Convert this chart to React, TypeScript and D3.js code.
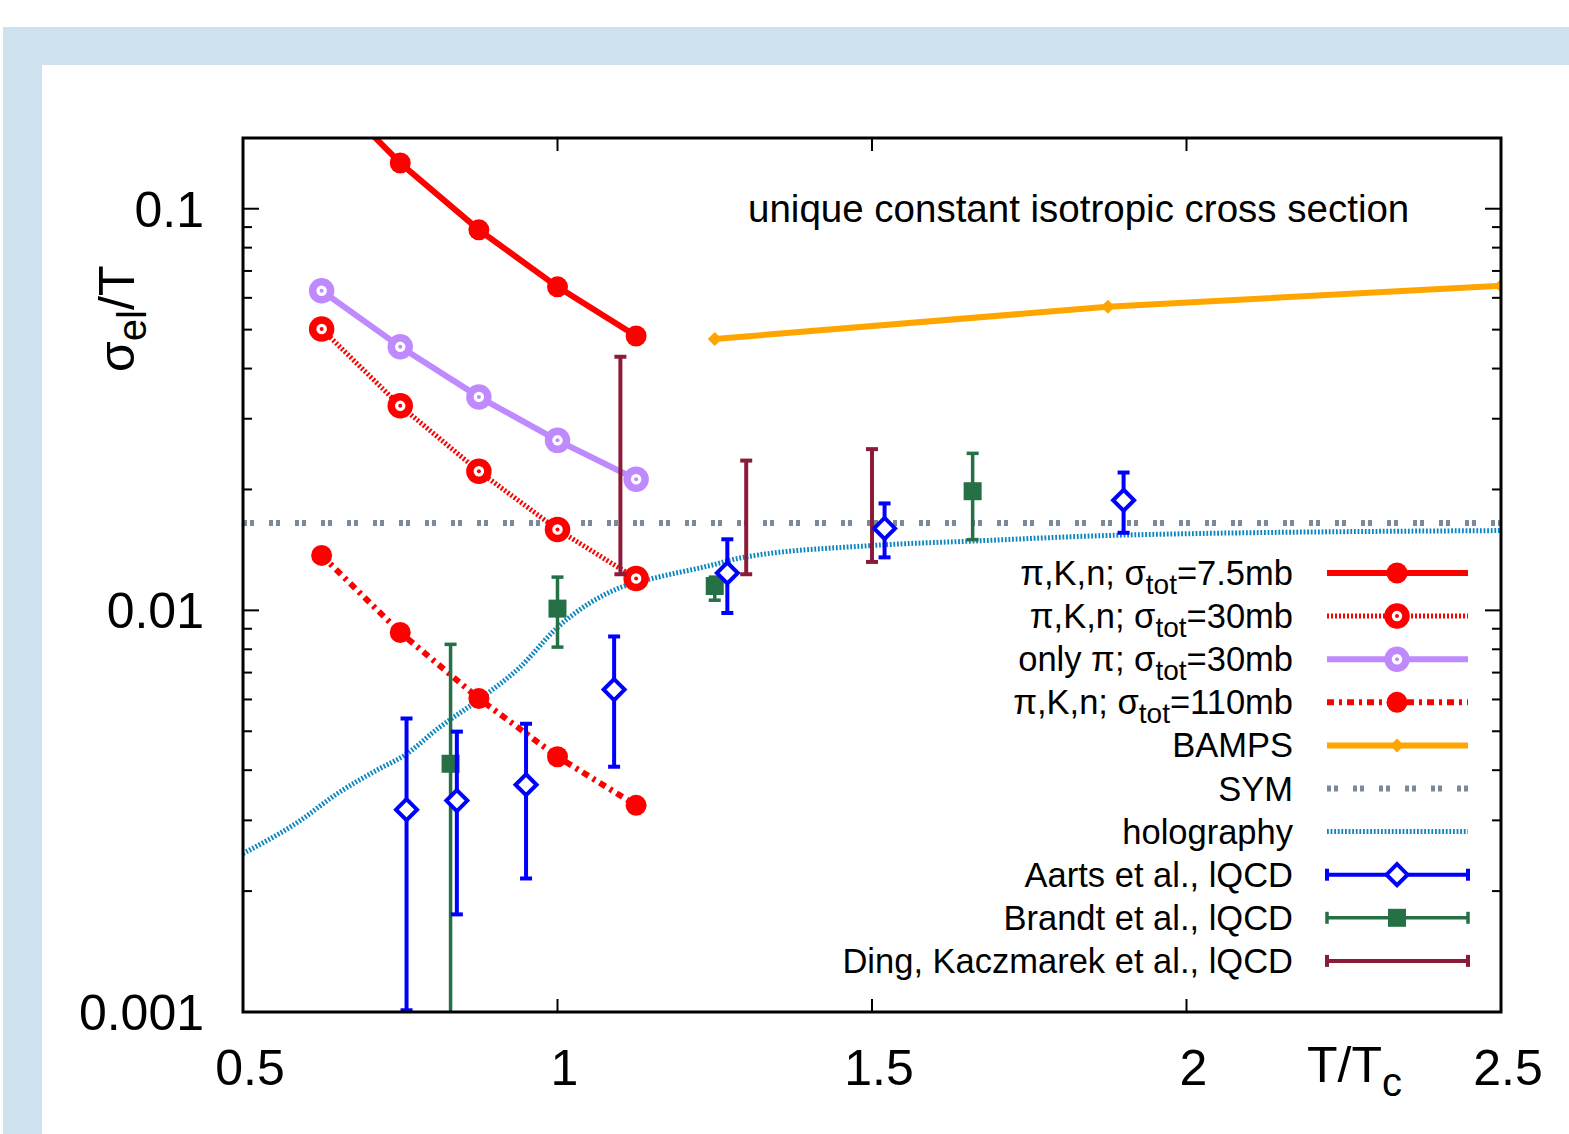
import * as d3 from 'd3'

// T/Tc grid of the transport-model points
const tGrid = [0.625, 0.75, 0.875, 1.0, 1.125]
const sig75 = [0.205, 0.13, 0.0886, 0.0639, 0.0482]
const sig30 = [0.0502, 0.0323, 0.0222, 0.0159, 0.012]
const sigPi30 = [0.0625, 0.0453, 0.034, 0.0265, 0.0212]
const sig110 = [0.0137, 0.00881, 0.00603, 0.00432, 0.00327]

const bampsT = [1.25, 1.875, 2.5]
const bampsV = [0.0474, 0.057, 0.0643]

const symV = 0.0165

const holoT = [0.5, 0.59, 0.65, 0.71, 0.76, 0.81, 0.88, 0.94, 1.0, 1.05, 1.1, 1.16, 1.24, 1.29, 1.5, 1.67, 1.9, 2.5]
const holoV = [0.00248, 0.00299, 0.0035, 0.00398, 0.00439, 0.00508, 0.00607, 0.00721, 0.00907, 0.0104, 0.0114, 0.0121, 0.0129, 0.0135, 0.0145, 0.0149, 0.0154, 0.0158]

const aartsT = [0.76, 0.84, 0.95, 1.09, 1.27, 1.52, 1.9]
const aartsV = [0.00319, 0.00336, 0.00368, 0.00635, 0.01239, 0.016, 0.0188]
const aartsLo = [0.00101, 0.00175, 0.00215, 0.00408, 0.00985, 0.01355, 0.0156]
const aartsHi = [0.00538, 0.00499, 0.00522, 0.00861, 0.01503, 0.01846, 0.02204]

const brandtT = [0.83, 1.0, 1.25, 1.66]
const brandtV = [0.00415, 0.0101, 0.0115, 0.0198]
const brandtLo = [0.0008, 0.0081, 0.0106, 0.015]
const brandtHi = [0.00823, 0.0121, 0.0121, 0.0246]

const dingT = [1.1, 1.3, 1.5]
const dingLo = [0.0123, 0.0123, 0.0132]
const dingHi = [0.0428, 0.0236, 0.0252]

const xTicks = [0.5, 1, 1.5, 2, 2.5]
const yLabels = ['0.001', '0.01', '0.1']

const W = 1569
const H = 1134
const plot = { left: 243, right: 1501, top: 138, bottom: 1012 }
const FONT = '"Liberation Sans", Arial, Helvetica, sans-serif'

const RED = '#ff0000'
const VIOLET = '#c08aff'
const ORANGE = '#ffa500'
const SYMC = '#7b8a9b'
const HOLO = '#0b86c0'
const BLUE = '#0000ff'
const GREEN = '#257044'
const DING = '#8a1c3a'

const DOT_RED = '2,2'
const DASHDOT = '7,5,3,5'
const SYM_DASH = '4,3,4,15'
const HOLO_DASH = '1.8,1.8'

const x = d3.scaleLinear().domain([0.5, 2.5]).range([plot.left, plot.right])
const y = d3.scaleLog().domain([0.001, 0.15]).range([plot.bottom, plot.top])

const pts = (ts: number[], vs: number[]) => ts.map((t, i) => [t, vs[i]] as [number, number])
const straight = d3
  .line<[number, number]>()
  .x((d) => x(d[0]))
  .y((d) => y(d[1]))
const smooth = d3
  .line<[number, number]>()
  .x((d) => x(d[0]))
  .y((d) => y(d[1]))
  .curve(d3.curveMonotoneX)

const diamond = (cx: number, cy: number, r: number) =>
  `M${cx},${cy - r}L${cx + r},${cy}L${cx},${cy + r}L${cx - r},${cy}Z`

function Ring({ cx, cy, color }: { cx: number; cy: number; color: string }) {
  return (
    <g>
      <circle cx={cx} cy={cy} r={9} fill="#fff" stroke={color} strokeWidth={7.5} />
      <circle cx={cx} cy={cy} r={2} fill={color} />
    </g>
  )
}

function ErrBar({ cx, y1, y2, color, w, cap = true }: { cx: number; y1: number; y2: number; color: string; w: number; cap?: boolean }) {
  return (
    <g stroke={color} strokeWidth={w}>
      <line x1={cx} x2={cx} y1={y1} y2={y2} />
      <line x1={cx - 6} x2={cx + 6} y1={y1} y2={y1} />
      {cap && <line x1={cx - 6} x2={cx + 6} y1={y2} y2={y2} />}
    </g>
  )
}

const legendRows = [
  { pre: 'π,K,n; σ', post: '=7.5mb', kind: 'red' },
  { pre: 'π,K,n; σ', post: '=30mb', kind: 'red30' },
  { pre: 'only π; σ', post: '=30mb', kind: 'violet' },
  { pre: 'π,K,n; σ', post: '=110mb', kind: 'red110' },
  { pre: 'BAMPS', post: '', kind: 'bamps' },
  { pre: 'SYM', post: '', kind: 'sym' },
  { pre: 'holography', post: '', kind: 'holo' },
  { pre: 'Aarts et al., lQCD', post: '', kind: 'aarts' },
  { pre: 'Brandt et al., lQCD', post: '', kind: 'brandt' },
  { pre: 'Ding, Kaczmarek et al., lQCD', post: '', kind: 'ding' },
]

function LegendSample({ kind, cy }: { kind: string; cy: number }) {
  const x1 = 1327
  const x2 = 1468
  const mx = 1397
  const ends = (c: string, w: number) => (
    <>
      <line x1={x1} x2={x2} y1={cy} y2={cy} stroke={c} strokeWidth={w} />
      <line x1={x1} x2={x1} y1={cy - 6} y2={cy + 6} stroke={c} strokeWidth={w} />
      <line x1={x2} x2={x2} y1={cy - 6} y2={cy + 6} stroke={c} strokeWidth={w} />
    </>
  )
  switch (kind) {
    case 'red':
      return (
        <g>
          <line x1={x1} x2={x2} y1={cy} y2={cy} stroke={RED} strokeWidth={6} />
          <circle cx={mx} cy={cy} r={10.5} fill={RED} />
        </g>
      )
    case 'red30':
      return (
        <g>
          <line x1={x1} x2={x2} y1={cy} y2={cy} stroke={RED} strokeWidth={5} strokeDasharray={DOT_RED} />
          <Ring cx={mx} cy={cy} color={RED} />
        </g>
      )
    case 'violet':
      return (
        <g>
          <line x1={x1} x2={x2} y1={cy} y2={cy} stroke={VIOLET} strokeWidth={6} />
          <Ring cx={mx} cy={cy} color={VIOLET} />
        </g>
      )
    case 'red110':
      return (
        <g>
          <line x1={x1} x2={x2} y1={cy} y2={cy} stroke={RED} strokeWidth={6} strokeDasharray={DASHDOT} />
          <circle cx={mx} cy={cy} r={10.5} fill={RED} />
        </g>
      )
    case 'bamps':
      return (
        <g>
          <line x1={x1} x2={x2} y1={cy} y2={cy} stroke={ORANGE} strokeWidth={6} />
          <path d={diamond(mx, cy, 7)} fill={ORANGE} />
        </g>
      )
    case 'sym':
      return <line x1={x1} x2={x2} y1={cy} y2={cy} stroke={SYMC} strokeWidth={6} strokeDasharray={SYM_DASH} />
    case 'holo':
      return <line x1={x1} x2={x2} y1={cy} y2={cy} stroke={HOLO} strokeWidth={5} strokeDasharray={HOLO_DASH} />
    case 'aarts':
      return (
        <g>
          {ends(BLUE, 4)}
          <path d={diamond(mx, cy, 10.5)} fill="#fff" stroke={BLUE} strokeWidth={4} />
        </g>
      )
    case 'brandt':
      return (
        <g>
          {ends(GREEN, 3.5)}
          <rect x={mx - 9} y={cy - 9} width={18} height={18} fill={GREEN} />
        </g>
      )
    default:
      return <g>{ends(DING, 4)}</g>
  }
}

export default function App() {
  const yTicks = y.ticks()
  const yMajor = [0.001, 0.01, 0.1]
  return (
    <div style={{ position: 'absolute', left: 0, top: 0 }}>
      <svg width={W} height={H} style={{ display: 'block' }} fontFamily={FONT}>
        <rect width={W} height={H} fill="#fff" />
        {/* light blue slide frame */}
        <rect x={3} y={27} width={W - 3} height={38} fill="#cde1ee" />
        <rect x={3} y={27} width={39} height={H - 27} fill="#cde1ee" />
        <rect x={42} y={65} width={W - 42} height={H - 65} fill="#fff" />

        <defs>
          <clipPath id="plotClip">
            <rect x={plot.left} y={plot.top} width={plot.right - plot.left} height={plot.bottom - plot.top} />
          </clipPath>
        </defs>

        {/* ticks */}
        <g stroke="#000" strokeWidth={2}>
          {xTicks.slice(1, -1).map((t) => (
            <g key={t}>
              <line x1={x(t)} x2={x(t)} y1={plot.bottom} y2={plot.bottom - 13} />
              <line x1={x(t)} x2={x(t)} y1={plot.top} y2={plot.top + 13} />
            </g>
          ))}
          {yTicks
            .filter((v) => v > 0.001 && v < 0.15)
            .map((v) => {
              const len = yMajor.some((m) => Math.abs(m - v) < 1e-9) ? 16 : 9
              return (
                <g key={v}>
                  <line x1={plot.left} x2={plot.left + len} y1={y(v)} y2={y(v)} />
                  <line x1={plot.right} x2={plot.right - len} y1={y(v)} y2={y(v)} />
                </g>
              )
            })}
        </g>

        <g clipPath="url(#plotClip)" fill="none">
          <line x1={plot.left} x2={plot.right} y1={y(symV)} y2={y(symV)} stroke={SYMC} strokeWidth={6} strokeDasharray={SYM_DASH} />
          <path d={smooth(pts(holoT, holoV)) ?? ''} stroke={HOLO} strokeWidth={5} strokeDasharray={HOLO_DASH} />

          <path d={straight(pts(tGrid, sig75)) ?? ''} stroke={RED} strokeWidth={6} />
          <path d={straight(pts(tGrid, sig30)) ?? ''} stroke={RED} strokeWidth={5} strokeDasharray={DOT_RED} />
          <path d={straight(pts(tGrid, sigPi30)) ?? ''} stroke={VIOLET} strokeWidth={6} />
          <path d={straight(pts(tGrid, sig110)) ?? ''} stroke={RED} strokeWidth={6} strokeDasharray={DASHDOT} />
          <path d={straight(pts(bampsT, bampsV)) ?? ''} stroke={ORANGE} strokeWidth={6} />

          {tGrid.map((t, i) => (
            <circle key={'a' + i} cx={x(t)} cy={y(sig75[i])} r={10.5} fill={RED} />
          ))}
          {tGrid.map((t, i) => (
            <Ring key={'b' + i} cx={x(t)} cy={y(sig30[i])} color={RED} />
          ))}
          {tGrid.map((t, i) => (
            <Ring key={'c' + i} cx={x(t)} cy={y(sigPi30[i])} color={VIOLET} />
          ))}
          {tGrid.map((t, i) => (
            <circle key={'d' + i} cx={x(t)} cy={y(sig110[i])} r={10.5} fill={RED} />
          ))}
          {bampsT.map((t, i) => (
            <path key={'e' + i} d={diamond(x(t), y(bampsV[i]), 7)} fill={ORANGE} />
          ))}

          {dingT.map((t, i) => (
            <ErrBar key={'f' + i} cx={x(t)} y1={y(dingHi[i])} y2={y(dingLo[i])} color={DING} w={4} />
          ))}
          {brandtT.map((t, i) => (
            <g key={'g' + i}>
              <ErrBar cx={x(t)} y1={y(brandtHi[i])} y2={y(brandtLo[i])} color={GREEN} w={3.5} cap={brandtLo[i] > 0.001} />
              <rect x={x(t) - 9} y={y(brandtV[i]) - 9} width={18} height={18} fill={GREEN} />
            </g>
          ))}
          {aartsT.map((t, i) => (
            <g key={'h' + i}>
              <ErrBar cx={x(t)} y1={y(aartsHi[i])} y2={y(aartsLo[i])} color={BLUE} w={4} />
              <path d={diamond(x(t), y(aartsV[i]), 10.5)} fill="#fff" stroke={BLUE} strokeWidth={4} />
            </g>
          ))}
        </g>

        {/* frame */}
        <rect
          x={plot.left}
          y={plot.top}
          width={plot.right - plot.left}
          height={plot.bottom - plot.top}
          fill="none"
          stroke="#000"
          strokeWidth={3}
        />

        {/* tick labels */}
        <g fontSize={50} fill="#000">
          {xTicks.map((t) => (
            <text key={t} x={x(t) + 7} y={1085} textAnchor="middle">
              {String(t)}
            </text>
          ))}
          {yLabels.map((l) => (
            <text key={l} x={204} y={y(+l) + 18} textAnchor="end">
              {l}
            </text>
          ))}
        </g>

        {/* axis titles */}
        <text x={1307} y={1082} fontSize={50}>
          T/T
          <tspan fontSize={40} dy={14}>
            c
          </tspan>
        </text>
        <text transform="translate(134,372) rotate(-90)" fontSize={50}>
          σ
          <tspan fontSize={40} dy={12}>
            el
          </tspan>
          <tspan dy={-12}>/T</tspan>
        </text>

        <text x={748} y={222} fontSize={38.5}>
          unique constant isotropic cross section
        </text>

        {/* legend */}
        {legendRows.map((r, i) => {
          const cy = 573 + i * 43.1
          return (
            <g key={i}>
              <text x={1293} y={cy + 12} textAnchor="end" fontSize={34.5}>
                {r.pre}
                {r.post && (
                  <>
                    <tspan fontSize={28} dy={9}>
                      tot
                    </tspan>
                    <tspan dy={-9}>{r.post}</tspan>
                  </>
                )}
              </text>
              <LegendSample kind={r.kind} cy={cy} />
            </g>
          )
        })}
      </svg>
    </div>
  )
}
